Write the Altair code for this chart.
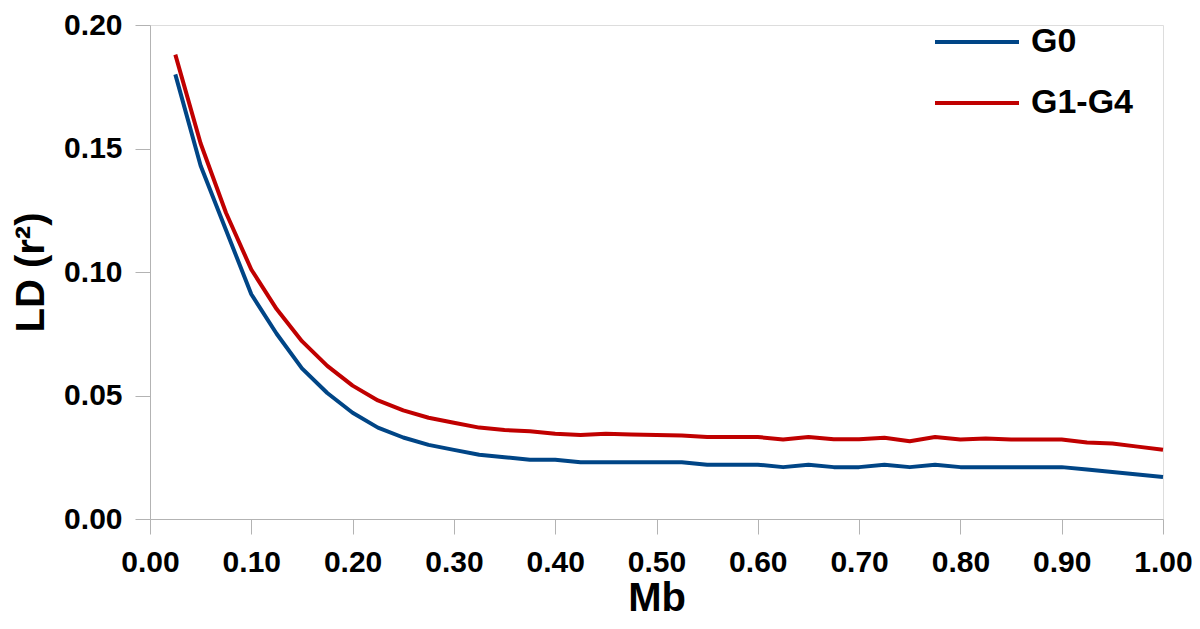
import altair as alt
import pandas as pd

mb = [0.025, 0.05, 0.075, 0.1, 0.125, 0.15, 0.175, 0.2, 0.225, 0.25,
      0.275, 0.3, 0.325, 0.35, 0.375, 0.4, 0.425, 0.45, 0.475, 0.5,
      0.525, 0.55, 0.575, 0.6, 0.625, 0.65, 0.675, 0.7, 0.725, 0.75,
      0.775, 0.8, 0.825, 0.85, 0.875, 0.9, 0.925, 0.95, 0.975, 1.0]

g0 = [0.180, 0.143, 0.117, 0.091, 0.075, 0.061, 0.051, 0.043, 0.037, 0.033,
      0.030, 0.028, 0.026, 0.025, 0.024, 0.024, 0.023, 0.023, 0.023, 0.023,
      0.023, 0.022, 0.022, 0.022, 0.021, 0.022, 0.021, 0.021, 0.022, 0.021,
      0.022, 0.021, 0.021, 0.021, 0.021, 0.021, 0.020, 0.019, 0.018, 0.017]

g1g4 = [0.188, 0.152, 0.124, 0.101, 0.085, 0.072, 0.062, 0.054, 0.048, 0.044,
        0.041, 0.039, 0.037, 0.036, 0.0355, 0.0345, 0.034, 0.0345, 0.0342, 0.034,
        0.0338, 0.0332, 0.0332, 0.0332, 0.0322, 0.0332, 0.0323, 0.0323, 0.0329, 0.0315,
        0.0332, 0.0322, 0.0326, 0.0322, 0.0322, 0.0322, 0.031, 0.0306, 0.0293, 0.028]

series = ["G0", "G1-G4"]
colors = ["#004586", "#c00000"]

x_ticks = [0.0, 0.1, 0.2, 0.3, 0.4, 0.5, 0.6, 0.7, 0.8, 0.9, 1.0]
y_ticks = [0.0, 0.05, 0.10, 0.15, 0.20]

df = pd.concat([
    pd.DataFrame({"Mb": mb, "LD": g0, "group": series[0]}),
    pd.DataFrame({"Mb": mb, "LD": g1g4, "group": series[1]}),
])

FONT = "Liberation Sans"
GRAY = "#b3b3b3"

chart = alt.Chart(df).mark_line(strokeWidth=4, strokeJoin="round").encode(
    x=alt.X("Mb:Q", title="Mb",
            scale=alt.Scale(domain=[0, 1], nice=False, zero=False),
            axis=alt.Axis(values=x_ticks, format=".2f", grid=False,
                          tickSize=15, tickColor=GRAY, domainColor=GRAY,
                          labelFontSize=30, labelFont=FONT, labelFontWeight="bold",
                          labelColor="black", labelPadding=13, labelFlush=False,
                          titleFontSize=40, titleFont=FONT, titleFontWeight="bold",
                          titleColor="black", titlePadding=1)),
    y=alt.Y("LD:Q", title="LD (r²)",
            scale=alt.Scale(domain=[0, 0.2], nice=False),
            axis=alt.Axis(values=y_ticks, format=".2f", grid=False,
                          tickSize=15, tickColor=GRAY, domainColor=GRAY,
                          labelFontSize=30, labelFont=FONT, labelFontWeight="bold",
                          labelColor="black", labelPadding=13, labelFlush=False,
                          titleFontSize=40, titleFont=FONT, titleFontWeight="bold",
                          titleColor="black", titlePadding=12)),
    color=alt.Color("group:N", sort=series,
                    scale=alt.Scale(domain=series, range=colors),
                    legend=alt.Legend(title=None, orient="none",
                                      legendX=783, legendY=-27,
                                      symbolType="stroke", symbolSize=7056,
                                      symbolStrokeWidth=4,
                                      labelFontSize=34, labelFont=FONT,
                                      labelFontWeight="bold", labelColor="black",
                                      labelOffset=10, rowPadding=-47)),
).properties(
    width=1013, height=494,
    autosize=alt.AutoSizeParams(type="none"),
    padding={"left": 142, "top": 17, "right": 29, "bottom": 102},
).configure_view(
    stroke=GRAY, strokeWidth=1
).configure(background="white")

chart.save("out.html", embed_options={"renderer": "svg", "actions": False})
